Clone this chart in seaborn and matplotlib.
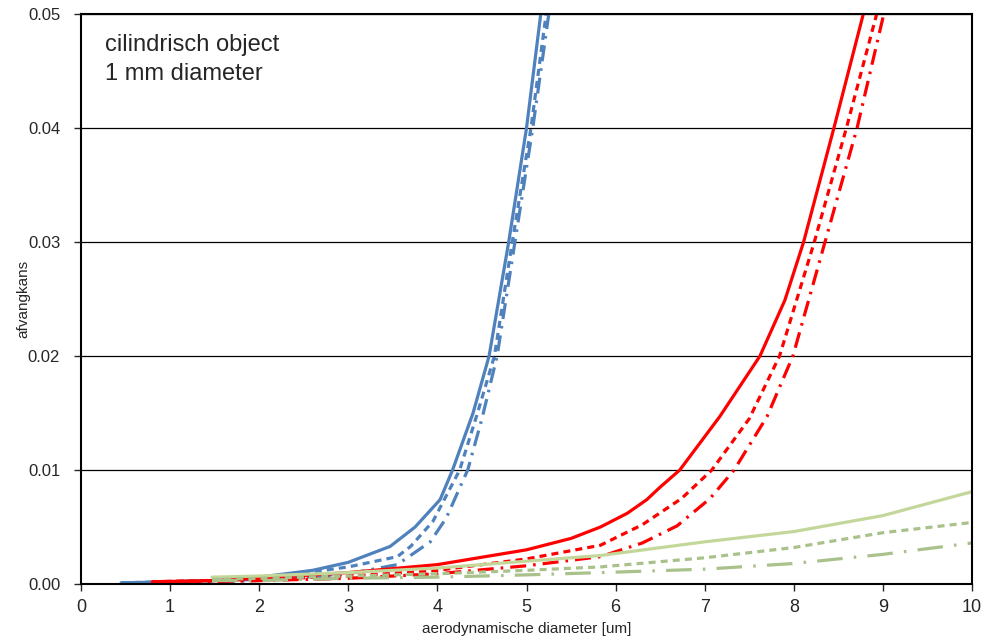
import pandas as pd
import matplotlib.pyplot as plt
import seaborn as sns

# Blue curves
blue_solid_x = [0.45, 1.0, 1.5, 2.0, 2.6, 3.0, 3.47, 3.75, 4.03, 4.17, 4.4, 4.58, 4.8, 5.0, 5.16]
blue_solid_y = [0.0001, 0.0002, 0.0003, 0.0006, 0.0012, 0.0019, 0.0033, 0.005, 0.0074, 0.01, 0.015, 0.02, 0.03, 0.04, 0.05]
blue_dash_x = [0.45, 1.0, 2.0, 3.0, 3.55, 3.7, 3.95, 4.25, 4.45, 4.64, 4.84, 5.05, 5.22]
blue_dash_y = [0.0001, 0.0002, 0.0004, 0.0015, 0.0024, 0.0033, 0.0055, 0.01, 0.015, 0.02, 0.03, 0.04, 0.05]
blue_dd_x = [0.45, 1.0, 2.0, 3.0, 3.55, 3.92, 4.1, 4.34, 4.5, 4.67, 4.87, 5.07, 5.25]
blue_dd_y = [0.0001, 0.0001, 0.0003, 0.0009, 0.0017, 0.0037, 0.0058, 0.01, 0.0145, 0.02, 0.03, 0.04, 0.05]

# Red curves
red_solid_x = [0.8, 1.5, 2.0, 3.0, 4.0, 5.0, 5.5, 5.83, 6.13, 6.35, 6.5, 6.72, 7.17, 7.62, 7.9, 8.11, 8.45, 8.78]
red_solid_y = [0.0002, 0.0003, 0.0005, 0.001, 0.0017, 0.003, 0.004, 0.005, 0.0062, 0.0074, 0.0085, 0.01, 0.0147, 0.02, 0.0249, 0.03, 0.04, 0.05]
red_dash_x = [0.8, 2.0, 3.0, 4.0, 5.0, 5.83, 6.3, 6.74, 7.08, 7.5, 7.84, 8.23, 8.59, 8.93]
red_dash_y = [0.0002, 0.0004, 0.0007, 0.0012, 0.0022, 0.0034, 0.0052, 0.0075, 0.01, 0.0145, 0.02, 0.03, 0.04, 0.05]
red_dd_x = [0.8, 2.0, 3.0, 4.0, 5.0, 5.83, 6.3, 6.69, 7.06, 7.33, 7.7, 7.99, 8.35, 8.71, 9.01]
red_dd_y = [0.0001, 0.0003, 0.0005, 0.0009, 0.0016, 0.0024, 0.0036, 0.0051, 0.0075, 0.01, 0.0147, 0.02, 0.03, 0.04, 0.05]

# Green curves
green_x = [1.47, 2.0, 3.0, 4.0, 5.0, 5.83, 7.0, 8.0, 9.0, 10.0]
green_solid_y = [0.0006, 0.0007, 0.001, 0.0014, 0.002, 0.0025, 0.0037, 0.0046, 0.006, 0.0081]
green_dash_y = [0.0004, 0.0005, 0.0007, 0.0009, 0.0012, 0.0015, 0.0023, 0.0032, 0.0045, 0.0054]
green_dd_y = [0.0003, 0.0003, 0.0005, 0.0006, 0.0008, 0.001, 0.0013, 0.0018, 0.0026, 0.0036]

x_ticks = list(range(0, 11))
y_ticks = [0.0, 0.01, 0.02, 0.03, 0.04, 0.05]
y_ticklabels = ['0.00', '0.01', '0.02', '0.03', '0.04', '0.05']

blue = '#4F81BD'
red = '#FF0000'
green_light = '#C4D79B'
green_dark = '#A9C18A'

solid = (None, None)
short_dash = (2.2, 1.6)
dash_dot = (5, 2.2, 0.8, 2.2)
long_dash_dot = (8, 3.5, 0.8, 3.5)

series = [
    (blue_solid_x, blue_solid_y, blue, solid),
    (blue_dash_x, blue_dash_y, blue, short_dash),
    (blue_dd_x, blue_dd_y, blue, dash_dot),
    (red_solid_x, red_solid_y, red, solid),
    (red_dash_x, red_dash_y, red, short_dash),
    (red_dd_x, red_dd_y, red, dash_dot),
    (green_x, green_solid_y, green_light, solid),
    (green_x, green_dash_y, green_dark, short_dash),
    (green_x, green_dd_y, green_dark, long_dash_dot),
]

sns.set_style("white")
plt.rcParams['font.family'] = ['Liberation Sans', 'DejaVu Sans']

fig = plt.figure(figsize=(9.88, 6.4), dpi=100)
ax = fig.add_axes([0.082, 0.0875, 0.9018, 0.8905])

for xs, ys, col, dash in series:
    df = pd.DataFrame({'x': xs, 'y': ys})
    sns.lineplot(ax=ax, data=df, x='x', y='y', color=col, linewidth=2.3, sort=False)
    if dash[0] is not None:
        ax.lines[-1].set_dashes(dash)

ax.set_xlim(0, 10)
ax.set_ylim(0, 0.05)
ax.set_xticks(x_ticks)
ax.set_xticklabels([str(v) for v in x_ticks], fontsize=13)
ax.set_yticks(y_ticks)
ax.set_yticklabels(y_ticklabels, fontsize=12)
ax.grid(axis='y', color='black', linewidth=0.9)
ax.set_axisbelow(True)
ax.tick_params(axis='both', direction='out', length=5, width=1, bottom=True, left=True)
ax.tick_params(axis='x', pad=6)
ax.tick_params(axis='y', pad=10)

for sp in ax.spines.values():
    sp.set_visible(True)
    sp.set_color('black')
    sp.set_linewidth(1.5)

ax.set_xlabel('aerodynamische diameter [um]', fontsize=11, labelpad=4)
ax.set_ylabel('afvangkans', fontsize=11, labelpad=-2)

ax.text(0.027, 0.965, 'cilindrisch object\n1 mm diameter', transform=ax.transAxes,
        fontsize=17, va='top', ha='left', linespacing=1.4)

fig.savefig('out.png', dpi=100)
